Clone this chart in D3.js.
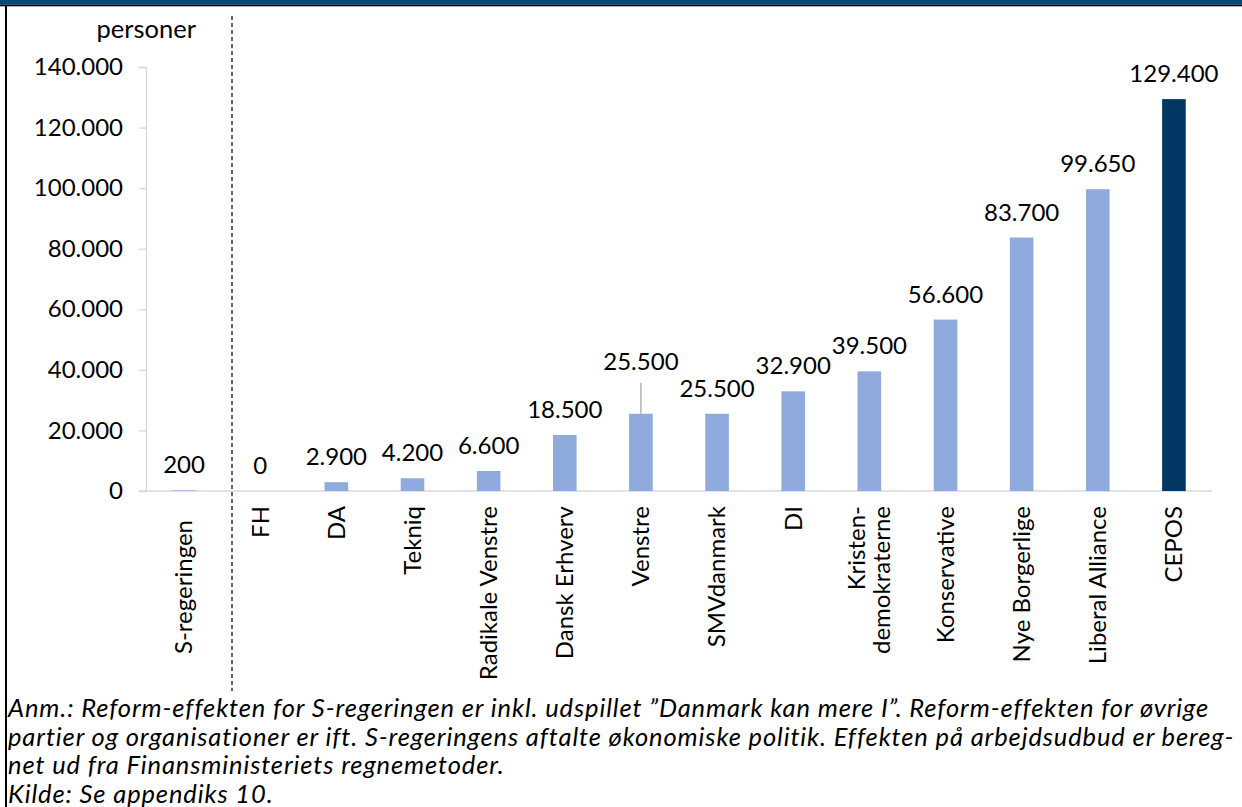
<!DOCTYPE html>
<html>
<head>
<meta charset="utf-8">
<script src="https://cdn.jsdelivr.net/npm/d3@7"></script>
<style>
  html, body { margin: 0; padding: 0; background: #fff; }
  svg { display: block; font-family: Lato, "Open Sans", sans-serif; }
</style>
</head>
<body>
<svg id="chart" width="1242" height="807"></svg>
<script>
// ---- data ----
const categories = ["S-regeringen", "FH", "DA", "Tekniq", "Radikale Venstre", "Dansk Erhverv", "Venstre",
  "SMVdanmark", "DI", "Kristen-demokraterne", "Konservative", "Nye Borgerlige", "Liberal Alliance", "CEPOS"];
const categoryLines = [["S-regeringen"], ["FH"], ["DA"], ["Tekniq"], ["Radikale Venstre"], ["Dansk Erhverv"], ["Venstre"],
  ["SMVdanmark"], ["DI"], ["Kristen-", "demokraterne"], ["Konservative"], ["Nye Borgerlige"], ["Liberal Alliance"], ["CEPOS"]];
const values = [200, 0, 2900, 4200, 6600, 18500, 25500, 25500, 32900, 39500, 56600, 83700, 99650, 129400];
const yTicks = [0, 20000, 40000, 60000, 80000, 100000, 120000, 140000];
const unitLabel = "personer";
const noteLines = [
  "Anm.: Reform-effekten for S-regeringen er inkl. udspillet ”Danmark kan mere I”. Reform-effekten for øvrige",
  "partier og organisationer er ift. S-regeringens aftalte økonomiske politik. Effekten på arbejdsudbud er bereg-",
  "net ud fra Finansministeriets regnemetoder.",
  "Kilde: Se appendiks 10."
];

// ---- styles / layout ----
const lightBlue = "#8FAADC", navy = "#023764", axisGrey = "#d9d9d9";
const highlight = "CEPOS";
const liftedLabel = { "Venstre": 27 };   // label raised with leader line
const catLabelEnd = { "S-regeringen": 520 };
const plot = { left: 146, right: 1212, top: 67, bottom: 491 };
const fs = 24;
const noteFs = 25.5;
const noteWidth = 1199;

const svg = d3.select("#chart");
const loc = d3.formatLocale({ decimal: ",", thousands: ".", grouping: [3], currency: ["", ""] });
const fmt = loc.format(",.0f");

// header band and frame
svg.append("rect").attr("x", 0).attr("y", 0).attr("width", 1242).attr("height", 4.5).attr("fill", "#004876");
svg.append("rect").attr("x", 0).attr("y", 4.5).attr("width", 1242).attr("height", 1.8).attr("fill", "#000");
svg.append("rect").attr("x", 5).attr("y", 5).attr("width", 2).attr("height", 802).attr("fill", "#000");

const x = d3.scaleBand().domain(categories).range([plot.left, plot.right]).paddingInner(0.69).paddingOuter(0.345);
const y = d3.scaleLinear().domain([0, 140000]).range([plot.bottom, plot.top]);

// y axis
const yAxis = d3.axisLeft(y).tickValues(yTicks).tickSize(7).tickPadding(16).tickFormat(fmt);
const gy = svg.append("g").attr("transform", `translate(${plot.left},0)`).call(yAxis);
gy.select(".domain").attr("stroke", axisGrey).attr("stroke-width", 1.3);
gy.selectAll(".tick line").attr("stroke", axisGrey).attr("stroke-width", 1.3);
gy.selectAll(".tick text").attr("font-size", fs).attr("fill", "#000").attr("font-family", "Lato");

// x axis line
svg.append("line").attr("x1", plot.left - 7).attr("x2", plot.right).attr("y1", y(0)).attr("y2", y(0))
  .attr("stroke", axisGrey).attr("stroke-width", 1.5);

// unit label
svg.append("text").attr("x", 196).attr("y", 38).attr("text-anchor", "end").attr("font-size", 25.5).text(unitLabel);

// bars
svg.selectAll("rect.bar").data(categories).enter().append("rect").attr("class", "bar")
  .attr("x", d => x(d)).attr("width", x.bandwidth())
  .attr("y", (d, i) => y(values[i])).attr("height", (d, i) => y(0) - y(values[i]))
  .attr("fill", d => d === highlight ? navy : lightBlue);

// value labels
categories.forEach((c, i) => {
  const cx = x(c) + x.bandwidth() / 2;
  const top = y(values[i]);
  const lift = liftedLabel[c] || 0;
  svg.append("text").attr("x", cx).attr("y", top - 17 - lift).attr("text-anchor", "middle")
    .attr("font-size", fs).text(fmt(values[i]));
  if (lift) {
    svg.append("line").attr("x1", cx).attr("x2", cx).attr("y1", top - lift - 4).attr("y2", top)
      .attr("stroke", "#a6a6a6").attr("stroke-width", 1.3);
  }
});

// category labels (rotated)
categories.forEach((c, i) => {
  const cx = x(c) + x.bandwidth() / 2;
  const lines = categoryLines[i];
  const yEnd = catLabelEnd[c] || 506;
  const gap = 25;
  lines.forEach((ln, j) => {
    const off = (j - (lines.length - 1) / 2) * gap;
    svg.append("text")
      .attr("transform", `translate(${cx + off},${yEnd}) rotate(-90)`)
      .attr("text-anchor", "end").attr("dy", "0.35em")
      .attr("font-size", fs).text(ln);
  });
});

// dashed separator
svg.append("line").attr("x1", 232).attr("x2", 232).attr("y1", 16).attr("y2", 691)
  .attr("stroke", "#000").attr("stroke-width", 1.2).attr("stroke-dasharray", "4,3");

// note (letter spacing chosen so the first line fills the reference width)
const probe = svg.append("text").attr("font-size", noteFs).attr("font-style", "italic").text(noteLines[0]);
const natural = probe.node().getComputedTextLength();
probe.remove();
const ls = Math.max(0, (noteWidth - natural) / (noteLines[0].length - 1));
noteLines.forEach((t, i) => {
  svg.append("text").attr("x", 8).attr("y", 717 + i * 28.7)
    .attr("font-size", noteFs).attr("font-style", "italic").attr("letter-spacing", ls).text(t);
});
</script>
</body>
</html>
